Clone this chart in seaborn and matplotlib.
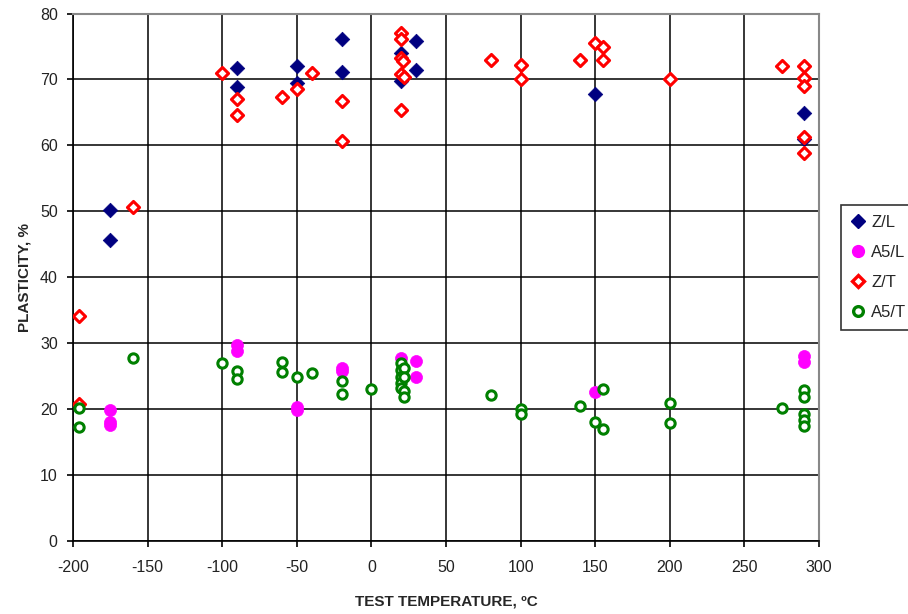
import matplotlib
matplotlib.use("Agg")
import matplotlib.pyplot as plt
import seaborn as sns
import pandas as pd
from matplotlib.lines import Line2D

# ---- data ----
zl_x = [-175, -175, -90, -90, -50, -50, -20, -20, 20, 20, 30, 30, 150, 290, 290]
zl_y = [50.2, 45.7, 71.7, 68.8, 72.0, 69.5, 76.1, 71.2, 74.0, 69.7, 75.9, 71.5, 67.8, 64.9, 60.9]

a5l_x = [-175, -175, -175, -90, -90, -50, -50, -20, -20, 20, 30, 30, 150, 290, 290]
a5l_y = [19.9, 18.0, 17.6, 29.7, 28.8, 20.3, 19.9, 26.3, 25.8, 27.7, 27.3, 24.8, 22.6, 28.1, 27.2]

zt_x = [-196, -196, -160, -100, -90, -90, -60, -50, -40, -20, -20, 20, 20, 20, 21, 20, 22, 20,
        80, 100, 100, 140, 150, 155, 155, 200, 275, 290, 290, 290, 290, 290]
zt_y = [34.1, 20.8, 50.7, 71.0, 67.0, 64.6, 67.3, 68.6, 71.0, 66.8, 60.7, 77.1, 76.1, 73.2, 72.8, 70.8, 70.3, 65.4,
        73.0, 72.2, 70.1, 73.0, 75.5, 74.9, 72.9, 70.1, 72.0, 72.0, 70.2, 69.0, 61.2, 58.8]

a5t_x = [-196, -196, -160, -100, -90, -90, -60, -60, -50, -40, -20, -20, 0, 20, 20, 20, 20, 20, 22, 22, 22, 22,
         80, 100, 100, 140, 150, 155, 155, 200, 200, 275, 290, 290, 290, 290, 290]
a5t_y = [20.2, 17.3, 27.8, 27.0, 25.8, 24.5, 27.2, 25.7, 24.9, 25.5, 24.2, 22.3, 23.0, 27.0, 25.9, 24.9, 23.9, 23.2,
         26.2, 24.8, 22.7, 21.8, 22.2, 20.0, 19.3, 20.5, 18.0, 23.0, 17.0, 20.9, 17.9, 20.2, 22.9, 21.8, 19.2, 18.4, 17.4]

x_ticks = [-200, -150, -100, -50, 0, 50, 100, 150, 200, 250, 300]
y_ticks = [0, 10, 20, 30, 40, 50, 60, 70, 80]

series = [
    ("Z/L", zl_x, zl_y, "D", "#000080", True),
    ("A5/L", a5l_x, a5l_y, "o", "#FF00FF", True),
    ("Z/T", zt_x, zt_y, "D", "#FF0000", False),
    ("A5/T", a5t_x, a5t_y, "o", "#008000", False),
]

sns.set_theme(style="white")
plt.rcParams["font.family"] = ["Liberation Sans", "DejaVu Sans"]
plt.rcParams["axes.unicode_minus"] = False

fig = plt.figure(figsize=(9.08, 6.14), dpi=100)
ax = fig.add_axes([0.0804, 0.1189, 0.8216, 0.8591])

for x_lines in x_ticks:
    ax.axvline(x_lines, color="black", lw=1.1, zorder=0)
for y_lines in y_ticks:
    ax.axhline(y_lines, color="black", lw=1.1, zorder=0)

handles = []
for name, xs, ys, mk, col, filled in series:
    df = pd.DataFrame({"x": xs, "y": ys})
    if filled:
        sns.scatterplot(data=df, x="x", y="y", marker=mk, color=col, s=55 if mk == "D" else 75,
                        edgecolor=col, linewidth=0.5, ax=ax, zorder=3)
        handles.append(Line2D([], [], ls="", marker=mk, color=col, markersize=7 if mk == "D" else 8.5,
                              markeredgecolor=col))
    else:
        sns.scatterplot(data=df, x="x", y="y", marker=mk, color=col, s=38 if mk == "D" else 45,
                        ax=ax, zorder=3)
        coll = ax.collections[-1]
        coll.set_facecolor("white")
        coll.set_edgecolor(col)
        coll.set_linewidth(2.2)
        handles.append(Line2D([], [], ls="", marker=mk, markerfacecolor="white", markeredgecolor=col,
                              markeredgewidth=2.4, markersize=6.5 if mk == "D" else 7))

ax.set_xlim(-200, 300)
ax.set_ylim(0, 80)
ax.set_xticks(x_ticks)
ax.set_yticks(y_ticks)
ax.tick_params(axis="both", which="major", direction="out", length=4, width=1.2, color="black",
               labelsize=11.5, labelcolor="#222222", bottom=True, left=True)
ax.tick_params(axis="x", pad=10)
ax.tick_params(axis="y", pad=7)
ax.set_xlabel("TEST TEMPERATURE, \u00baC", fontsize=11, fontweight="bold", labelpad=14)
ax.set_ylabel("PLASTICITY, %", fontsize=11, fontweight="bold", labelpad=6)

for side in ["left", "bottom"]:
    ax.spines[side].set_color("black")
    ax.spines[side].set_linewidth(1.2)
for side in ["top", "right"]:
    ax.spines[side].set_color("#888888")
    ax.spines[side].set_linewidth(1.5)

leg = fig.legend(handles, [s[0] for s in series], loc="upper left",
                 bbox_to_anchor=(841 / 908, 1 - 205 / 614), frameon=True, fontsize=12,
                 handlelength=0.8, handletextpad=0.4, labelspacing=0.9, borderpad=0.6,
                 borderaxespad=0, fancybox=False)
leg.get_frame().set_edgecolor("black")
leg.get_frame().set_linewidth(1.2)

fig.savefig("out.png", dpi=100, facecolor="white")
